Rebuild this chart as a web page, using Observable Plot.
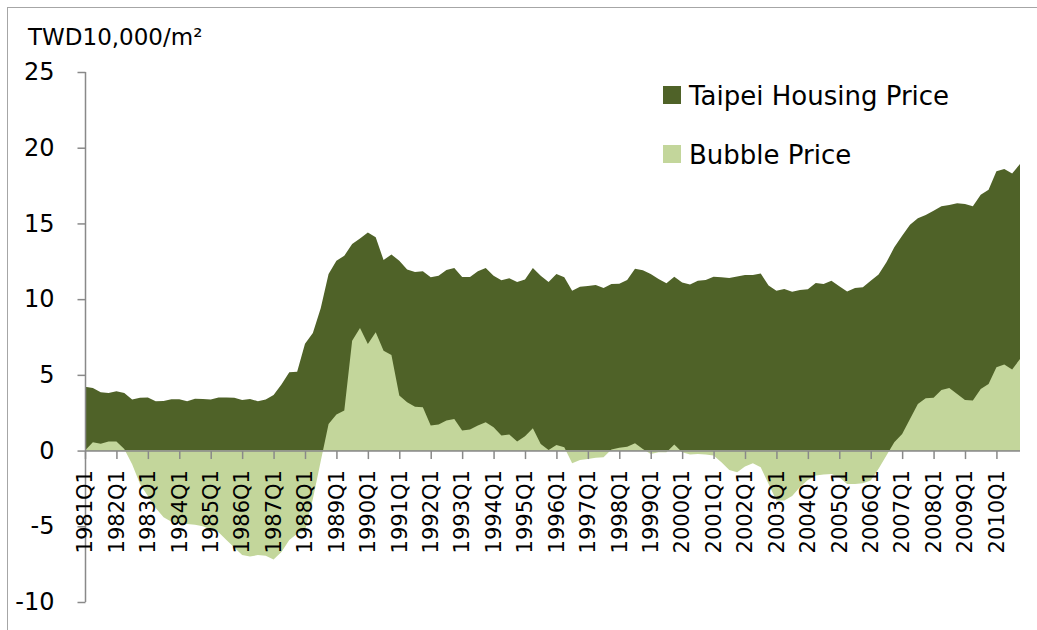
<!DOCTYPE html>
<html>
<head>
<meta charset="utf-8">
<script src="https://cdn.jsdelivr.net/npm/d3@7"></script>
<script src="https://cdn.jsdelivr.net/npm/@observablehq/plot@0.6"></script>
<style>
  html, body { margin: 0; padding: 0; background: #fff; overflow: hidden; }
  #chart { position: relative; width: 1037px; height: 630px; overflow: hidden; }
  #frame { position: absolute; left: 7px; top: 7px; width: 1100px; height: 700px;
           border-left: 1px solid #a6a6a6; border-top: 1px solid #a6a6a6; pointer-events: none; }
</style>
</head>
<body>
<div id="chart"><div id="frame"></div></div>
<script>
// ---- Data ----
const years = [1981,1982,1983,1984,1985,1986,1987,1988,1989,1990,1991,1992,1993,1994,1995,
               1996,1997,1998,1999,2000,2001,2002,2003,2004,2005,2006,2007,2008,2009,2010];

// Taipei Housing Price, TWD10,000/m2, quarterly 1981Q1 .. 2010Q4
const housing = [
  4.22,4.14,3.85,3.80, 3.92,3.80,3.37,3.48, 3.50,3.26,3.28,3.39, 3.39,3.26,3.43,3.41,
  3.37,3.50,3.50,3.48, 3.34,3.41,3.26,3.37, 3.67,4.36,5.17,5.21, 7.06,7.77,9.40,11.66,
  12.54,12.87,13.64,14.00, 14.40,14.08,12.58,12.94, 12.54,11.95,11.80,11.84, 11.44,11.55,11.93,12.06,
  11.46,11.46,11.84,12.06, 11.55,11.24,11.38,11.13, 11.29,12.06,11.55,11.13, 11.66,11.44,10.56,10.82,
  10.87,10.94,10.74,11.00, 11.02,11.27,12.00,11.90, 11.66,11.33,11.05,11.48, 11.10,10.96,11.22,11.27,
  11.48,11.44,11.40,11.50, 11.60,11.60,11.70,10.90, 10.56,10.67,10.48,10.60, 10.65,11.07,11.00,11.22,
  10.85,10.50,10.74,10.78, 11.22,11.62,12.43,13.42, 14.19,14.92,15.34,15.56, 15.84,16.13,16.22,16.33,
  16.28,16.13,16.90,17.23, 18.44,18.60,18.30,18.92
];

// Bubble Price, TWD10,000/m2, quarterly 1981Q1 .. 2010Q4
const bubble = [
  0.00,0.55,0.45,0.60, 0.60,0.10,-0.90,-2.20, -3.00,-3.80,-4.40,-4.70, -4.80,-4.85,-4.90,-5.00,
  -5.20,-5.40,-5.90,-6.40, -6.90,-7.00,-6.90,-6.95, -7.20,-6.70,-5.90,-5.50, -5.30,-3.20,-0.70,1.76,
  2.38,2.64,7.26,8.10, 7.04,7.81,6.60,6.31, 3.63,3.19,2.90,2.86, 1.65,1.72,1.98,2.09,
  1.32,1.39,1.65,1.87, 1.54,0.99,1.06,0.60, 0.95,1.47,0.44,0.04, 0.37,0.22,-0.84,-0.62,
  -0.55,-0.48,-0.44,0.07, 0.18,0.26,0.48,0.11, -0.22,-0.11,-0.11,0.40, -0.11,-0.26,-0.22,-0.26,
  -0.33,-0.77,-1.28,-1.43, -1.06,-0.84,-1.10,-2.20, -3.30,-3.30,-3.00,-2.40, -1.95,-1.65,-1.58,-1.54,
  -1.76,-2.20,-2.20,-2.15, -1.98,-1.20,-0.33,0.55, 1.10,2.09,3.08,3.45, 3.48,4.00,4.14,3.74,
  3.34,3.30,4.07,4.40, 5.50,5.68,5.35,6.05
];

const yTicks = [-10, -5, 0, 5, 10, 15, 20, 25];
const seriesNames = ["Taipei Housing Price", "Bubble Price"];
const unitLabel = "TWD10,000/m\u00b2";

// ---- Derived tables ----
const quarters = years.flatMap(y => [1,2,3,4].map(q => `${y}Q${q}`));
const rows = housing.map((h, i) => ({i, q: quarters[i], housing: h, bubble: bubble[i]}));
const xTicks = rows.filter(d => d.q.endsWith("Q1"));
const lastIndex = rows.length - 1;

const DARK = "#4F6228", LIGHT = "#C3D69B", AXIS = "#898989";
const FONT = "DejaVu Sans";

// custom tick-mark symbols
const tickDown = { draw(ctx) { ctx.moveTo(0, 0); ctx.lineTo(0, 8); } };
const tickLeft = { draw(ctx) { ctx.moveTo(0, 0); ctx.lineTo(-8, 0); } };

const plot = Plot.plot({
  width: 1037,
  height: 630,
  marginLeft: 85,
  marginRight: 17,
  marginTop: 72,
  marginBottom: 28,
  style: {fontFamily: FONT, background: "transparent", color: "black", overflow: "visible"},
  x: {domain: [0, lastIndex], axis: null},
  y: {domain: [yTicks[0], yTicks[yTicks.length - 1]], axis: null},
  marks: [
    Plot.areaY(rows, {x: "i", y: "housing", fill: DARK}),
    Plot.areaY(rows, {x: "i", y: "bubble", fill: LIGHT}),
    // x axis along zero
    Plot.ruleY([0], {x1: 0, x2: lastIndex, stroke: AXIS, strokeWidth: 1.5}),
    // y axis line
    Plot.ruleX([0], {y1: yTicks[0], y2: yTicks[yTicks.length - 1], stroke: AXIS, strokeWidth: 1.5}),
    // x tick marks
    Plot.dot(xTicks, {x: "i", y: d => 0, symbol: tickDown, fill: "none", stroke: AXIS, strokeWidth: 1.5}),
    // y tick marks
    Plot.dot(yTicks, {x: d => 0, y: d => d, symbol: tickLeft, fill: "none", stroke: AXIS, strokeWidth: 1.5}),
    // x tick labels
    Plot.text(xTicks, {x: "i", y: d => 0, text: "q", rotate: -90, textAnchor: "end",
      lineAnchor: "middle", dy: 19, fontSize: 21, fill: "black"}),
    // y tick labels
    Plot.text(yTicks, {x: d => 0, y: d => d, text: d => String(d), textAnchor: "end",
      lineAnchor: "middle", dx: -31, fontSize: 24, fill: "black"})
  ]
});

document.getElementById("chart").appendChild(plot);

// ---- Unit label and legend ----
const svg = d3.select(plot);

svg.append("text").attr("x", 28).attr("y", 45).attr("text-anchor", "start")
  .attr("font-family", FONT).attr("font-size", 23).attr("fill", "black")
  .text(unitLabel);

const legendColors = [DARK, LIGHT];
const lg = svg.append("g").attr("font-family", FONT).attr("font-size", 26).attr("text-anchor", "start");
seriesNames.forEach((name, k) => {
  const top = 86 + k * 59;
  lg.append("rect").attr("x", 663).attr("y", top).attr("width", 18).attr("height", 18)
    .attr("fill", legendColors[k]);
  lg.append("text").attr("x", 689).attr("y", top + 19).attr("fill", "black").text(name);
});
</script>
</body>
</html>
